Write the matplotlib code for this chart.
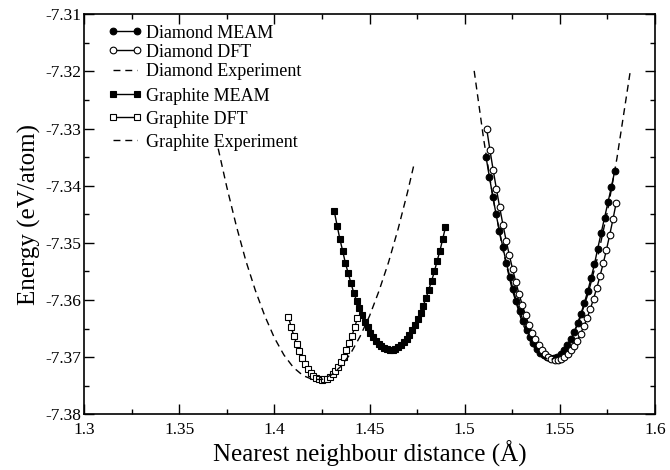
import matplotlib
matplotlib.use("Agg")
import matplotlib.pyplot as plt
from matplotlib.ticker import MultipleLocator, FormatStrFormatter

plt.rcParams['font.family'] = ['Liberation Serif', 'DejaVu Serif']
plt.rcParams['axes.unicode_minus'] = False

# ---------------- data ----------------
dia_meam_x = [1.5112, 1.5130, 1.5148, 1.5165, 1.5183, 1.5201, 1.5219, 1.5237, 1.5254, 1.5272,
              1.5290, 1.5308, 1.5326, 1.5343, 1.5361, 1.5379, 1.5397, 1.5415, 1.5432, 1.5450,
              1.5468, 1.5486, 1.5504, 1.5521, 1.5539, 1.5557, 1.5575, 1.5593, 1.5610, 1.5628,
              1.5646, 1.5664, 1.5682, 1.5699, 1.5717, 1.5735, 1.5753, 1.5771, 1.5788]
dia_meam_e = [-7.3349, -7.3385, -7.3419, -7.3450, -7.3480, -7.3508, -7.3535, -7.3559, -7.3581, -7.3602,
              -7.3620, -7.3637, -7.3652, -7.3664, -7.3675, -7.3685, -7.3692, -7.3697, -7.3700, -7.3702,
              -7.3701, -7.3699, -7.3694, -7.3688, -7.3679, -7.3669, -7.3656, -7.3641, -7.3625, -7.3606,
              -7.3585, -7.3562, -7.3537, -7.3510, -7.3483, -7.3456, -7.3429, -7.3402, -7.3375]

dia_dft_x = [1.5116, 1.5133, 1.5150, 1.5167, 1.5184, 1.5201, 1.5218, 1.5235, 1.5252, 1.5269,
             1.5286, 1.5303, 1.5320, 1.5337, 1.5354, 1.5371, 1.5388, 1.5405, 1.5422, 1.5439,
             1.5456, 1.5473, 1.5490, 1.5507, 1.5524, 1.5541, 1.5558, 1.5575, 1.5592, 1.5609,
             1.5626, 1.5643, 1.5660, 1.5677, 1.5694, 1.5711, 1.5728, 1.5745, 1.5762, 1.5779,
             1.5796]
dia_dft_e = [-7.3301, -7.3338, -7.3373, -7.3406, -7.3438, -7.3468, -7.3496, -7.3522, -7.3546, -7.3569,
             -7.3590, -7.3609, -7.3627, -7.3643, -7.3657, -7.3669, -7.3679, -7.3688, -7.3695, -7.3700,
             -7.3703, -7.3705, -7.3705, -7.3703, -7.3700, -7.3695, -7.3688, -7.3680, -7.3671, -7.3659,
             -7.3646, -7.3632, -7.3616, -7.3598, -7.3579, -7.3558, -7.3536, -7.3512, -7.3486, -7.3459,
             -7.3430]

dia_exp_x = [1.505, 1.510, 1.515, 1.520, 1.525, 1.530, 1.535, 1.540, 1.545, 1.550,
             1.555, 1.560, 1.565, 1.570, 1.575, 1.580, 1.5869]
dia_exp_e = [-7.3199, -7.3319, -7.3423, -7.3511, -7.3582, -7.3637, -7.3676, -7.3698, -7.3705, -7.3697,
             -7.3674, -7.3638, -7.3587, -7.3523, -7.3445, -7.3352, -7.3202]

gra_meam_x = [1.4315, 1.4330, 1.4344, 1.4359, 1.4373, 1.4388, 1.4403, 1.4417, 1.4432, 1.4446,
              1.4461, 1.4476, 1.4490, 1.4505, 1.4519, 1.4534, 1.4549, 1.4563, 1.4578, 1.4592,
              1.4607, 1.4622, 1.4636, 1.4651, 1.4665, 1.4680, 1.4695, 1.4709, 1.4724, 1.4738,
              1.4753, 1.4768, 1.4782, 1.4797, 1.4811, 1.4826, 1.4841, 1.4855, 1.4870, 1.4884,
              1.4899]
gra_meam_e = [-7.3445, -7.3470, -7.3493, -7.3514, -7.3535, -7.3553, -7.3571, -7.3587, -7.3601, -7.3614,
              -7.3627, -7.3638, -7.3648, -7.3657, -7.3665, -7.3672, -7.3677, -7.3681, -7.3684, -7.3686,
              -7.3687, -7.3687, -7.3685, -7.3682, -7.3679, -7.3674, -7.3668, -7.3661, -7.3653, -7.3644,
              -7.3634, -7.3623, -7.3610, -7.3597, -7.3582, -7.3567, -7.3550, -7.3532, -7.3514, -7.3494,
              -7.3473]

gra_dft_x = [1.4074, 1.4088, 1.4103, 1.4117, 1.4132, 1.4146, 1.4161, 1.4175, 1.4190, 1.4204,
             1.4219, 1.4233, 1.4248, 1.4262, 1.4277, 1.4291, 1.4306, 1.4320, 1.4335, 1.4349,
             1.4364, 1.4378, 1.4393, 1.4407, 1.4422, 1.4436]
gra_dft_e = [-7.3629, -7.3647, -7.3663, -7.3677, -7.3690, -7.3702, -7.3712, -7.3720, -7.3727, -7.3733,
             -7.3737, -7.3739, -7.3740, -7.3739, -7.3738, -7.3734, -7.3730, -7.3724, -7.3717, -7.3709,
             -7.3699, -7.3688, -7.3676, -7.3663, -7.3648, -7.3632]

gra_exp_x = [1.3705, 1.375, 1.380, 1.385, 1.390, 1.395, 1.400, 1.405, 1.410, 1.415,
             1.420, 1.425, 1.430, 1.435, 1.440, 1.445, 1.450, 1.455, 1.460, 1.465,
             1.470, 1.4735]
gra_exp_e = [-7.3335, -7.3402, -7.3470, -7.3531, -7.3583, -7.3628, -7.3666, -7.3696, -7.3718, -7.3732,
             -7.3739, -7.3739, -7.3731, -7.3716, -7.3694, -7.3664, -7.3628, -7.3584, -7.3534, -7.3476,
             -7.3411, -7.3361]

labels = ["Diamond MEAM", "Diamond DFT", "Diamond Experiment",
          "Graphite MEAM", "Graphite DFT", "Graphite Experiment"]
x_label = "Nearest neighbour distance (Å)"
y_label = "Energy (eV/atom)"

# ---------------- figure ----------------
fig = plt.figure(figsize=(6.7, 4.7), dpi=100)
ax = fig.add_axes([0.1254, 0.1185, 0.8522, 0.8511])

dash = (0, (5, 3.5))
ms_c = 4.8
ms_s = 4.4

l1, = ax.plot(dia_meam_x, dia_meam_e, '-', color='black', lw=1.0, marker='o', ms=ms_c,
              mfc='black', mec='black', mew=0.8, label=labels[0])
l2, = ax.plot(dia_dft_x, dia_dft_e, '-', color='black', lw=1.0, marker='o', ms=ms_c,
              mfc='white', mec='black', mew=0.8, label=labels[1])
l3, = ax.plot(dia_exp_x, dia_exp_e, color='black', lw=1.0, linestyle=dash, label=labels[2])
l4, = ax.plot(gra_meam_x, gra_meam_e, '-', color='black', lw=1.0, marker='s', ms=ms_s,
              mfc='black', mec='black', mew=0.8, label=labels[3])
l5, = ax.plot(gra_dft_x, gra_dft_e, '-', color='black', lw=1.0, marker='s', ms=ms_s,
              mfc='white', mec='black', mew=0.8, label=labels[4])
l6, = ax.plot(gra_exp_x, gra_exp_e, color='black', lw=1.0, linestyle=dash, label=labels[5])

ax.set_xlim(1.3, 1.6)
ax.set_ylim(-7.38, -7.31)
ax.xaxis.set_major_locator(MultipleLocator(0.05))
ax.xaxis.set_minor_locator(MultipleLocator(0.025))
ax.yaxis.set_major_locator(MultipleLocator(0.01))
ax.yaxis.set_minor_locator(MultipleLocator(0.005))
ax.xaxis.set_major_formatter(FormatStrFormatter('%g'))
ax.yaxis.set_major_formatter(FormatStrFormatter('%.2f'))

ax.tick_params(which='both', direction='in', top=True, right=True, width=1.0,
               labelsize=12.5)
ax.tick_params(axis='x', which='both', pad=5.5)
ax.tick_params(axis='y', which='both', pad=2)
ax.tick_params(which='major', length=7)
ax.tick_params(which='minor', length=3.5)
for s in ax.spines.values():
    s.set_linewidth(1.2)

ax.set_xlabel(x_label, fontsize=18, labelpad=2)
ax.set_ylabel(y_label, fontsize=18, labelpad=3)

leg_kw = dict(loc='upper left', frameon=False, fontsize=13, handlelength=1.93,
              handletextpad=0.2, numpoints=2, borderaxespad=0.0)
leg1 = ax.legend(handles=[l1, l2, l3], labelspacing=0.12,
                 bbox_to_anchor=(0.0287, 0.9925), **leg_kw)
ax.add_artist(leg1)
ax.legend(handles=[l4, l5, l6], labelspacing=0.337,
          bbox_to_anchor=(0.0287, 0.835), **leg_kw)

fig.savefig("out.png", dpi=100)
